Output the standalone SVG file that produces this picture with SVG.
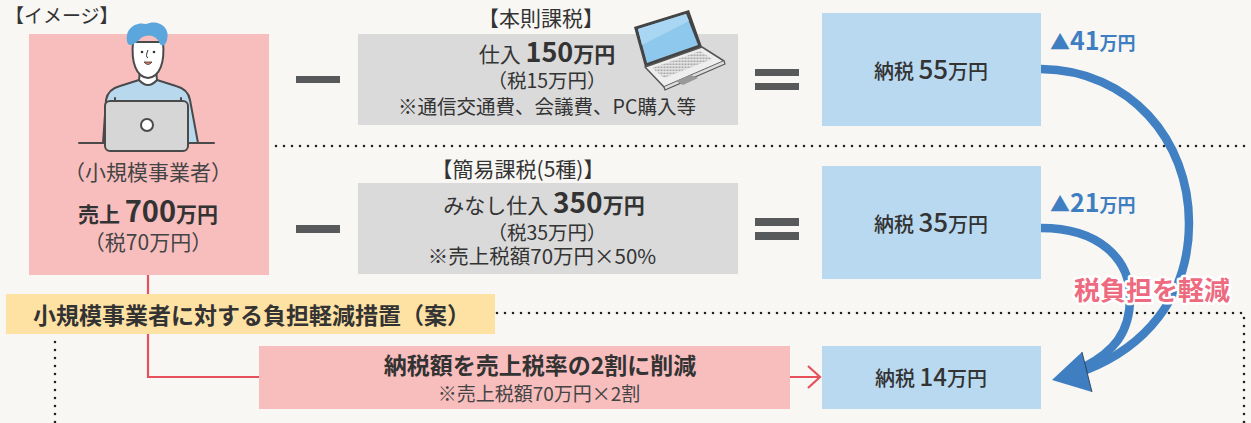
<svg xmlns="http://www.w3.org/2000/svg" width="1251" height="423" viewBox="0 0 1251 423">
  <style>
    text { font-family: "Noto Sans CJK JP", "Noto Sans", sans-serif; fill: #333; }
    text.soft { fill: #444; }
    text.relief { fill: #ee6a7f; stroke: #fff; stroke-width: 5; stroke-linejoin: round; paint-order: stroke; font-weight: 700; }
    .dots { fill: none; stroke: #222; stroke-width: 2.6; stroke-linecap: round; stroke-dasharray: 0 8; }
    .bar { fill: #58595b; }
    .pink { fill: #f8bebe; }
    .gray { fill: #dadada; }
    .blue { fill: #b8d9ef; }
    .yellow { fill: #fee2a4; }
    .ink { stroke: #4a4a4a; stroke-width: 2; stroke-linejoin: round; stroke-linecap: round; }
    .arc { fill: none; stroke: #4180c2; stroke-width: 8.5; }
    text.note { fill: #3f7fc1; font-weight: 700; }
    .red { fill: none; stroke: #e8505b; stroke-width: 2.2; }
    .b { font-weight: 700; }
    .m { font-weight: 500; }
  </style>
  <defs>
    <pattern id="keys" width="3" height="3" patternUnits="userSpaceOnUse">
      <rect width="3" height="3" fill="#e6e6e6"/>
      <rect x="0.5" y="0.5" width="2" height="1.6" fill="#a8a8a8"/>
    </pattern>
  </defs>

  <rect width="1251" height="423" fill="#f8f7f4"/>

  <!-- separators -->
  <g id="separators">
    <path class="dots" d="M276,146 H1251"/>
    <path class="dots" d="M497,313 H1244 V423"/>
    <path class="dots" d="M55,342 V423"/>
  </g>

  <text x="5" y="23" font-size="19">【イメージ】</text>

  <!-- connectors -->
  <g id="connectors">
    <path class="red" d="M148,275 V377 H259"/>
    <path class="red" d="M790,377 H820 M808,366 L820,377 L808,388"/>
    <path class="arc" d="M1041,69 C1130,70 1189,140 1189,223 C1189,300 1142,348 1086,370"/>
    <path class="arc" d="M1041,228 C1098,228 1130,258 1130,298 C1130,334 1112,352 1086,366"/>
    <polygon points="1052,380 1082,352 1092,392" fill="#3f7fc1"/>
    <path d="M1082,352 L1092,392" stroke="#1f2f44" stroke-width="0.8"/>
  </g>

  <!-- small business owner -->
  <g id="owner">
    <rect class="pink" x="29" y="34" width="240" height="241"/>
    <path class="ink" d="M79,143 H214" fill="none" stroke="#666"/>
    <path class="ink" fill="#b8d8ee" d="M103,143 L106,100 Q108,89 120,86 L139,80 L157,80 L176,86 Q188,89 190,100 L198,143 Z"/>
    <path class="ink" fill="#fff" d="M140,70 L139,80 Q148,90 157,80 L156,70 Z"/>
    <path class="ink" fill="#fff" d="M133,42 C131,62 136,77 148,78 C160,77 165,62 163,42 Z"/>
    <path d="M128,44 C123,31 134,21 146,24 C157,19 171,26 167,40 C166,45 162,47 160,44 C157,36 149,33 141,38 C137,42 132,47 128,44 Z" fill="#5aa6dd"/>
    <circle cx="142" cy="52" r="1.3" fill="#333"/>
    <circle cx="154" cy="52" r="1.3" fill="#333"/>
    <path d="M148,50 Q145,57 148,58" fill="none" stroke="#333" stroke-width="1"/>
    <path d="M144,62 Q148,67 152,62 Z" fill="#f07f5b" stroke="#333" stroke-width="0.8"/>
    <path class="ink" d="M115,98 V104 M181,98 V104" fill="none"/>
    <rect class="ink" x="105" y="101" width="83" height="50" rx="5" fill="#d6d6d6"/>
    <circle class="ink" cx="147" cy="125" r="6" fill="#fff"/>
    <text x="148" y="180" font-size="21" text-anchor="middle" class="soft">（小規模事業者）</text>
    <text x="148" y="222" text-anchor="middle" class="b"><tspan font-size="21">売上 </tspan><tspan font-size="29">700</tspan><tspan font-size="21">万円</tspan></text>
    <text x="148" y="250" font-size="21" text-anchor="middle" class="soft">（税70万円）</text>
  </g>

  <!-- operators -->
  <g id="operators">
    <rect class="bar" x="296" y="76" width="44" height="7"/>
    <rect class="bar" x="296" y="225" width="44" height="8"/>
    <rect class="bar" x="755" y="69" width="44" height="7"/>
    <rect class="bar" x="755" y="83" width="44" height="7"/>
    <rect class="bar" x="755" y="218" width="44" height="8"/>
    <rect class="bar" x="755" y="232" width="44" height="8"/>
  </g>

  <!-- standard taxation -->
  <g id="standard">
    <text x="541" y="26" font-size="21" text-anchor="middle">【本則課税】</text>
    <rect class="gray" x="358" y="34" width="380" height="91"/>
    <text x="547" y="62" text-anchor="middle"><tspan font-size="21">仕入 </tspan><tspan font-size="27" class="b">150</tspan><tspan font-size="21" class="b">万円</tspan></text>
    <text x="547" y="88" font-size="19.5" text-anchor="middle">（税15万円）</text>
    <text x="547" y="114" font-size="19.5" text-anchor="middle">※通信交通費、会議費、PC購入等</text>
    <!-- notebook pc -->
    <polygon points="634,27 689,10 702,47 645,67" fill="#444"/>
    <polygon points="638,29 686,14 698,45 647,63" fill="#8ec8ec"/>
    <polygon points="638,29 686,14 689,21 642,45" fill="#a9d7f3"/>
    <polygon points="645,67 702,47 724,61 664,87" fill="#eeeeee" stroke="#555" stroke-width="1.5" stroke-linejoin="round"/>
    <path d="M664,87 L665,90 L725,64 L724,61" fill="#ddd" stroke="#555" stroke-width="1.2"/>
    <polygon points="652,68 700,51 712,59 664,78" fill="url(#keys)"/>
    <polygon points="676,81 691,75 698,78 683,85" fill="#999"/>
  </g>

  <!-- simplified taxation -->
  <g id="simplified">
    <text x="518" y="177" font-size="21" text-anchor="middle">【簡易課税(5種)】</text>
    <rect class="gray" x="358" y="183" width="380" height="91"/>
    <text x="544" y="213" text-anchor="middle"><tspan font-size="21">みなし仕入 </tspan><tspan font-size="28" class="b">350</tspan><tspan font-size="21" class="b">万円</tspan></text>
    <text x="547" y="240" font-size="19.5" text-anchor="middle">（税35万円）</text>
    <text x="542" y="264" font-size="20.5" text-anchor="middle">※売上税額70万円×50%</text>
  </g>

  <!-- tax due boxes -->
  <g id="tax55">
    <rect class="blue" x="822" y="13" width="219" height="113"/>
    <text x="931" y="79" text-anchor="middle" class="m"><tspan font-size="20">納税 </tspan><tspan font-size="26">55</tspan><tspan font-size="20">万円</tspan></text>
  </g>
  <g id="tax35">
    <rect class="blue" x="822" y="166" width="219" height="113"/>
    <text x="931" y="232" text-anchor="middle" class="m"><tspan font-size="20">納税 </tspan><tspan font-size="26">35</tspan><tspan font-size="20">万円</tspan></text>
  </g>
  <g id="tax14">
    <rect class="blue" x="822" y="346" width="219" height="63"/>
    <text x="931" y="386" text-anchor="middle" class="m"><tspan font-size="20">納税 </tspan><tspan font-size="24">14</tspan><tspan font-size="20">万円</tspan></text>
  </g>

  <!-- reduction labels -->
  <g id="reductions">
    <text x="1050" y="50" class="note"><tspan font-size="20">▲</tspan><tspan font-size="25">41</tspan><tspan font-size="18">万円</tspan></text>
    <text x="1050" y="212" class="note"><tspan font-size="20">▲</tspan><tspan font-size="25">21</tspan><tspan font-size="18">万円</tspan></text>
  </g>

  <!-- relief measure -->
  <g id="measure">
    <rect class="yellow" x="6" y="294" width="489" height="40"/>
    <text x="33" y="324" font-size="23" class="b">小規模事業者に対する負担軽減措置（案）</text>
  </g>

  <g id="twenty-percent">
    <rect class="pink" x="259" y="346" width="531" height="63"/>
    <text x="540" y="374" font-size="23" class="b" text-anchor="middle">納税額を売上税率の2割に削減</text>
    <text x="539" y="401" font-size="19" text-anchor="middle" class="soft">※売上税額70万円×2割</text>
  </g>

  <text x="1152" y="300" font-size="26" class="relief" text-anchor="middle">税負担を軽減</text>
</svg>
